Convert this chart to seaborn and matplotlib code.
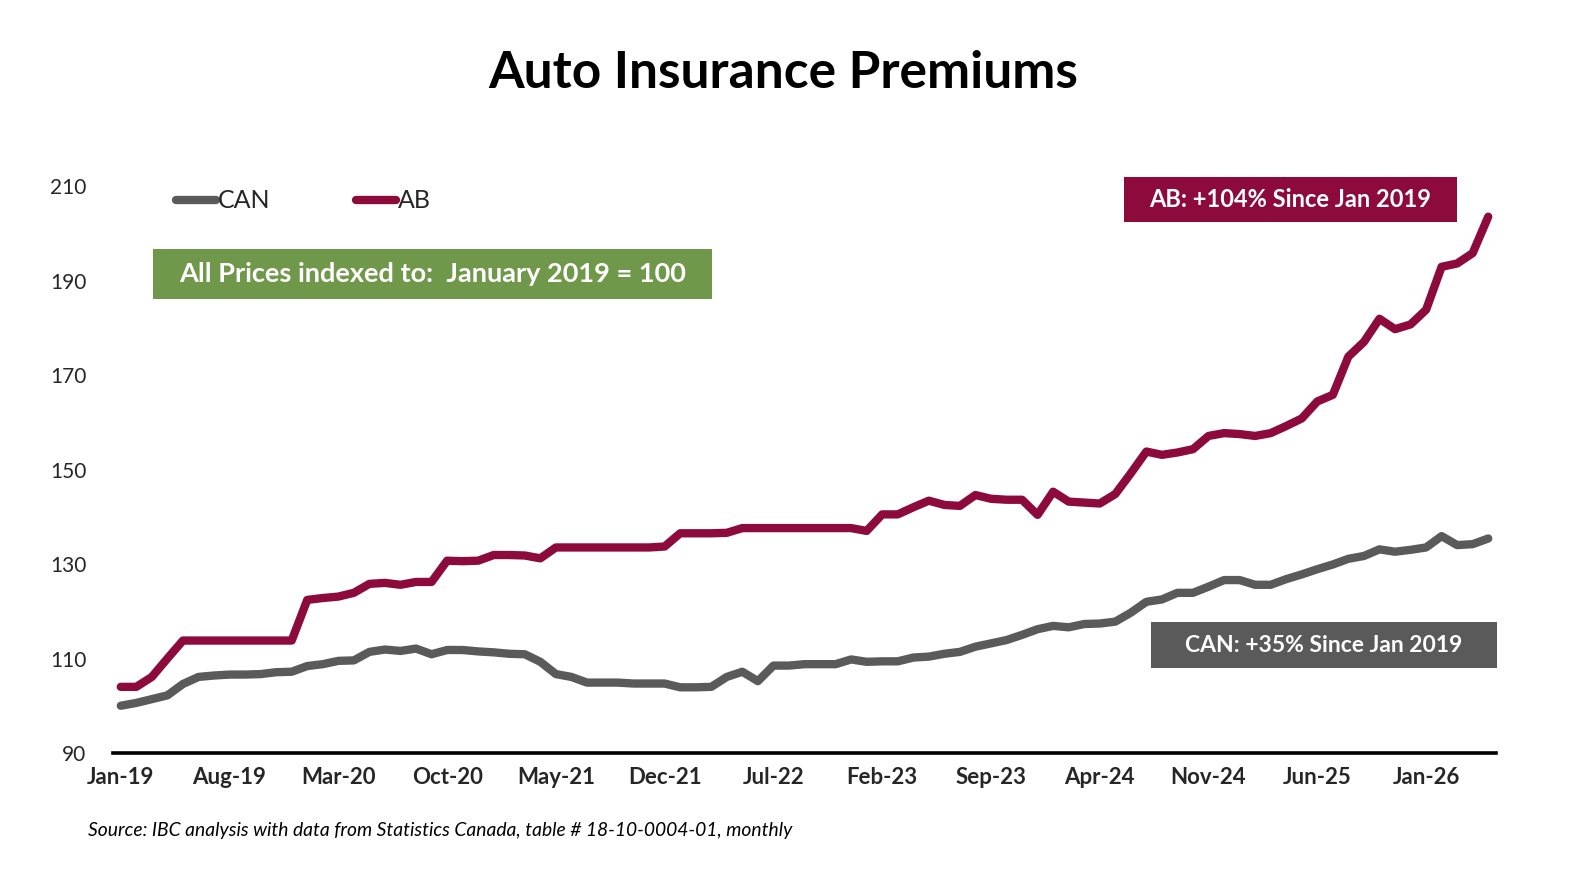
import pandas as pd
import numpy as np
import seaborn as sns
import matplotlib.pyplot as plt
from matplotlib.patches import Rectangle

# Index values (January 2019 = 100), monthly, Jan-19 .. May-26
ab_values = [
    104.0, 104.0, 106.1, 110.0, 113.8, 113.8, 113.8, 113.8, 113.8, 113.8,
    113.8, 113.8, 122.4, 122.8, 123.1, 123.9, 125.8, 126.0, 125.6, 126.2,
    126.2, 130.7, 130.6, 130.7, 131.9, 131.9, 131.8, 131.2, 133.5, 133.5,
    133.5, 133.5, 133.5, 133.5, 133.5, 133.7, 136.5, 136.5, 136.5, 136.6,
    137.6, 137.6, 137.6, 137.6, 137.6, 137.6, 137.6, 137.6, 137.0, 140.5,
    140.5, 142.0, 143.4, 142.5, 142.3, 144.6, 143.8, 143.6, 143.6, 140.4,
    145.3, 143.2, 143.0, 142.8, 144.8, 149.2, 153.8, 153.1, 153.6, 154.3,
    157.1, 157.7, 157.5, 157.1, 157.7, 159.2, 160.8, 164.4, 165.8, 173.9,
    177.0, 181.9, 179.7, 180.7, 183.8, 192.9, 193.6, 195.8, 203.5,
]
can_values = [
    100.0, 100.6, 101.4, 102.2, 104.6, 106.1, 106.4, 106.6, 106.6, 106.7,
    107.1, 107.2, 108.4, 108.8, 109.5, 109.6, 111.4, 111.9, 111.6, 112.1,
    110.9, 111.8, 111.8, 111.5, 111.3, 111.0, 110.9, 109.3, 106.7, 106.1,
    104.9, 104.9, 104.9, 104.7, 104.7, 104.7, 103.9, 103.9, 104.0, 106.1,
    107.2, 105.2, 108.5, 108.5, 108.8, 108.8, 108.8, 109.8, 109.3, 109.4,
    109.4, 110.2, 110.4, 111.0, 111.4, 112.5, 113.2, 113.9, 115.0, 116.2,
    116.9, 116.6, 117.3, 117.4, 117.8, 119.7, 122.0, 122.5, 123.9, 123.9,
    125.2, 126.6, 126.6, 125.6, 125.6, 126.8, 127.8, 128.9, 129.9, 131.1,
    131.7, 133.1, 132.6, 133.0, 133.5, 135.9, 134.0, 134.2, 135.4,
]
tick_labels = ["Jan-19", "Aug-19", "Mar-20", "Oct-20", "May-21", "Dec-21", "Jul-22",
               "Feb-23", "Sep-23", "Apr-24", "Nov-24", "Jun-25", "Jan-26"]
y_ticks = [90, 110, 130, 150, 170, 190, 210]

AB_COLOR = "#8c0b3c"
CAN_COLOR = "#5a5a5a"
GREEN = "#70984a"

n = len(ab_values)
df = pd.DataFrame({
    "month": list(range(n)) * 2,
    "index": can_values + ab_values,
    "region": ["CAN"] * n + ["AB"] * n,
})

sns.set_style("white")
plt.rcParams["font.family"] = ["Lato", "DejaVu Sans"]

W, H = 1570, 880
fig = plt.figure(figsize=(W / 100, H / 100), dpi=100)
ax = fig.add_axes([113 / W, 1 - 753 / H, (1496 - 113) / W, (753 - 186) / H])

sns.lineplot(data=df, x="month", y="index", hue="region",
             palette={"CAN": CAN_COLOR, "AB": AB_COLOR},
             linewidth=6, ax=ax, legend=False)
for line in ax.lines:
    line.set_solid_capstyle("round")
    line.set_solid_joinstyle("round")

ax.set_xlim(-0.5, n - 0.5)
ax.set_ylim(90, 210)
ax.set_yticks(y_ticks)
ax.set_xticks(range(0, 7 * len(tick_labels), 7))
ax.set_xticklabels(tick_labels, fontweight="bold", fontsize=16)
ax.tick_params(axis="y", labelsize=15, length=0, pad=19)
ax.tick_params(axis="x", length=0, pad=10)
ax.set_xlabel("")
ax.set_ylabel("")
for s in ["left", "top", "right"]:
    ax.spines[s].set_visible(False)
ax.spines["bottom"].set_color("black")
ax.spines["bottom"].set_linewidth(2.6)
ax.spines["bottom"].set_zorder(5)

# legend
handles = [plt.Line2D([], [], color=CAN_COLOR, lw=6, solid_capstyle="round"),
           plt.Line2D([], [], color=AB_COLOR, lw=6, solid_capstyle="round")]
fig.legend(handles, ["CAN", "AB"], loc="center left",
           bbox_to_anchor=(153 / W, 1 - 201 / H), ncol=2, frameon=False,
           fontsize=18, handlelength=1.6, handletextpad=0.1, columnspacing=3.4)

# title
fig.text(783 / W, 1 - 74 / H, "Auto Insurance Premiums", ha="center", va="center",
         fontsize=37, fontweight="bold", color="black")


def label_box(x0, y0, x1, y1, color, text, size):
    fig.patches.append(Rectangle((x0 / W, 1 - y1 / H), (x1 - x0) / W, (y1 - y0) / H,
                                 transform=fig.transFigure, facecolor=color,
                                 edgecolor="none", zorder=3))
    fig.text((x0 + x1) / 2 / W, 1 - (y0 + y1) / 2 / H, text, ha="center", va="center",
             color="white", fontweight="bold", fontsize=size, zorder=4)


label_box(153, 249, 712, 299, GREEN, "All Prices indexed to:  January 2019 = 100", 19.5)
label_box(1124, 177, 1457, 222, AB_COLOR, "AB: +104% Since Jan 2019", 17)
label_box(1151, 622, 1497, 668, CAN_COLOR, "CAN: +35% Since Jan 2019", 16.5)

fig.text(88 / W, 1 - 830 / H,
         "Source: IBC analysis with data from Statistics Canada, table # 18-10-0004-01, monthly",
         ha="left", va="center", fontsize=13.9, fontstyle="italic", color="black")

fig.savefig("out.png", dpi=100, facecolor="white")
